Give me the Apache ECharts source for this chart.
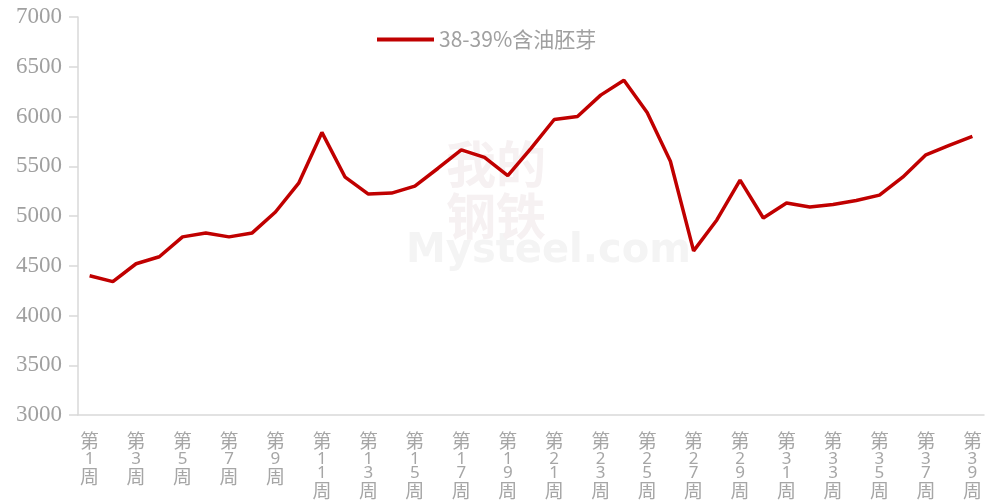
<!DOCTYPE html>
<html>
<head>
<meta charset="utf-8">
<script src="https://cdn.jsdelivr.net/npm/echarts@6/dist/echarts.min.js"></script>
<style>
html, body { margin: 0; padding: 0; background: #fff; }
#mainView { width: 987px; height: 504px; }
</style>
</head>
<body>
<div id="mainView"></div>
<script>
var seriesName = '38-39%含油胚芽';
var weeks = [];
for (var i = 1; i <= 39; i++) {
    weeks.push('第' + i + '周');
}
var prices = [
    4400, 4340, 4520, 4590, 4790, 4830, 4790, 4830, 5040, 5330,
    5840, 5390, 5220, 5230, 5300, 5480, 5665, 5590, 5405, 5680,
    5970, 6000, 6215, 6365, 6040, 5550, 4650, 4960, 5360, 4980,
    5130, 5090, 5115, 5155, 5210, 5390, 5615, 5710, 5800
];

var chart = echarts.init(document.getElementById('mainView'));
chart.setOption({
    animation: false,
    backgroundColor: '#fff',
    graphic: [
        {
            type: 'text',
            left: 406,
            top: 232,
            z: -1,
            style: {
                text: 'Mysteel.com',
                fill: '#f4f4f4',
                font: 'bold 40px "DejaVu Sans"'
            }
        },
        {
            type: 'text',
            left: 446,
            top: 138,
            z: -1,
            style: {
                text: '我的\n钢铁',
                fill: '#f6f1f2',
                font: 'bold 50px "Noto Sans CJK SC"',
                lineHeight: 52
            }
        }
    ],
    legend: {
        data: [seriesName],
        top: 24,
        left: 372,
        icon: 'rect',
        itemWidth: 57,
        itemHeight: 4,
        itemGap: 6,
        textStyle: {
            color: '#a0a0a0',
            fontSize: 21,
            fontFamily: 'Noto Sans CJK SC'
        }
    },
    grid: {
        left: 78,
        right: 3,
        top: 17,
        bottom: 89,
        containLabel: false
    },
    xAxis: {
        type: 'category',
        data: weeks,
        boundaryGap: true,
        axisLine: { lineStyle: { color: '#d9d9d9', width: 1.5 } },
        axisTick: { interval: 1, length: 8, lineStyle: { color: '#d9d9d9', width: 1.5 } },
        axisLabel: {
            interval: 1,
            margin: 15,
            color: '#a6a6a6',
            fontFamily: 'Noto Sans CJK SC',
            formatter: function (v) {
                var num = v.slice(1, v.length - 1);
                var s = '{c|第}';
                for (var k = 0; k < num.length; k++) {
                    s += '\n{d|' + num[k] + '}';
                }
                return s + '\n{c|周}';
            },
            rich: {
                c: { fontSize: 19, lineHeight: 22, color: '#a6a6a6', fontFamily: 'Noto Sans CJK SC' },
                d: { fontSize: 17, lineHeight: 14, color: '#a6a6a6', fontFamily: 'Noto Sans' }
            }
        }
    },
    yAxis: {
        type: 'value',
        min: 3000,
        max: 7000,
        interval: 500,
        splitLine: { show: false },
        axisLine: { show: true, lineStyle: { color: '#d9d9d9', width: 1.5 } },
        axisTick: { show: true, length: 9, lineStyle: { color: '#d9d9d9', width: 1.5 } },
        axisLabel: {
            margin: 16,
            color: '#a0a0a0',
            fontSize: 23,
            fontFamily: 'Liberation Serif',
            formatter: function (v) { return String(v); }
        }
    },
    series: [
        {
            name: seriesName,
            type: 'line',
            data: prices,
            symbol: 'none',
            lineStyle: { color: '#c00000', width: 3.5 },
            itemStyle: { color: '#c00000' }
        }
    ]
});
</script>
</body>
</html>
